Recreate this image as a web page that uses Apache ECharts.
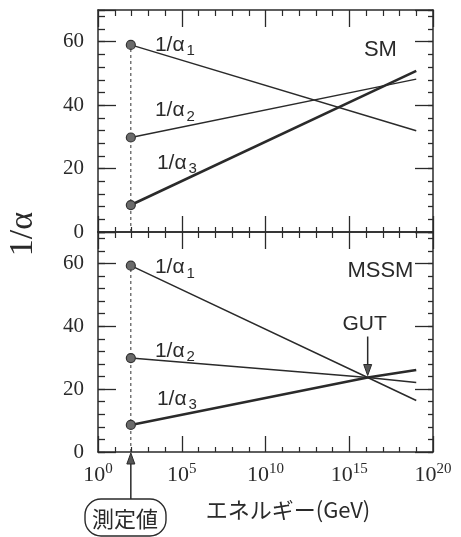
<!DOCTYPE html>
<html>
<head>
<meta charset="utf-8">
<script src="https://cdn.jsdelivr.net/npm/echarts@6/dist/echarts.min.js"></script>
<style>
  html, body { margin: 0; padding: 0; background: #fff; }
  #chart { width: 461px; height: 537px; }
</style>
</head>
<body>
<div id="chart"></div>
<script>
// Running inverse gauge couplings 1/alpha_i versus energy (log10 of GeV)
const xTickExponents = [0, 5, 10, 15, 20];
const yTickValues = [0, 20, 40, 60];
const couplingNames = ['1', '2', '3'];

// measured point (Z mass) and the upper end of the running
const mzLog = 1.96;

// Standard Model
const smLogE = [1.96, 19];
const smAlpha1 = [59.0, 31.9];
const smAlpha2 = [29.8, 48.2];
const smAlpha3 = [8.5, 50.8];

// Minimal supersymmetric standard model
const mssmLogE = [1.96, 16.1, 19];
const mssmAlpha1 = [59.3, 23.7, 16.4];
const mssmAlpha2 = [29.9, 23.7, 22.1];
const mssmAlpha3 = [8.6, 23.7, 26.1];

// unification point
const gutLog = 16.1;
const gutAlpha = 23.7;

const panelNames = ['SM', 'MSSM'];
const xTitle = 'エネルギー(GeV)';
const yTitle = '1/α';
const measuredLabel = '測定値';

const INK = '#2a2a2a';
const SERIF = '"Liberation Serif", "DejaVu Serif", serif';
const SANS = '"Liberation Sans", Arimo, Helvetica, Arial, sans-serif';
const CJK = '"Noto Sans CJK JP", "Noto Sans", sans-serif';

const chart = echarts.init(document.getElementById('chart'), null, { renderer: 'canvas' });

const grids = [
  { left: 98, right: 28, top: 10, height: 222 },
  { left: 98, right: 28, top: 232, height: 220 }
];

function xAxisFor(g, pos, showLabels) {
  return {
    gridIndex: g, type: 'value', position: pos,
    min: 0, max: 20, interval: 5,
    axisLine: { show: true, onZero: false, lineStyle: { color: INK, width: 1.5 } },
    axisTick: { show: true, inside: true, length: pos === 'top' ? 17 : 16, lineStyle: { color: INK, width: 1.3 } },
    minorTick: { show: true, splitNumber: 5, length: pos === 'top' ? 6 : 5, lineStyle: { color: INK, width: 1.2 } },
    splitLine: { show: false },
    axisLabel: showLabels ? {
      show: true, margin: 10,
      formatter: v => '{b|10}{s|' + v + '}',
      rich: {
        b: { fontFamily: SERIF, fontSize: 22, color: INK },
        s: { fontFamily: SERIF, fontSize: 15, color: INK, padding: [0, 0, 12, 0] }
      }
    } : { show: false }
  };
}

function yAxisFor(g, pos, major, showLabels) {
  return {
    gridIndex: g, type: 'value', position: pos,
    min: 0, max: 70, interval: major ? 20 : 4,
    axisLine: { show: major, onZero: false, lineStyle: { color: INK, width: 1.5 } },
    axisTick: { show: true, inside: true, length: major ? 18 : (pos === 'left' ? 7 : 5), lineStyle: { color: INK, width: 1.3 } },
    splitLine: { show: false },
    axisLabel: (major && showLabels) ? {
      show: true, margin: 14, fontFamily: SERIF, fontSize: 21, color: INK,
      formatter: v => (yTickValues.indexOf(v) >= 0 ? String(v) : '')
    } : { show: false }
  };
}

const xAxes = [
  xAxisFor(0, 'bottom', false), xAxisFor(0, 'top', false),
  xAxisFor(1, 'bottom', true), xAxisFor(1, 'top', false)
];
const yAxes = [
  yAxisFor(0, 'left', true, true), yAxisFor(0, 'left', false, false),
  yAxisFor(0, 'right', true, false), yAxisFor(0, 'right', false, false),
  yAxisFor(1, 'left', true, true), yAxisFor(1, 'left', false, false),
  yAxisFor(1, 'right', true, false), yAxisFor(1, 'right', false, false)
];

const labelRich = {
  m: { fontFamily: SANS, fontSize: 21, color: INK },
  sub: { fontFamily: SANS, fontSize: 15, color: INK, padding: [12, 0, 0, 2] }
};

// label offsets for the three coupling names in each panel
const labelOffsets = [
  [[14, 0], [14, -27], [16, -42]],
  [[14, 2], [14, -7], [16, -26]]
];

function couplingSeries(g, xs, ys, idx, width) {
  const data = xs.map((x, i) => {
    if (i === 0) {
      return {
        value: [x, ys[i]], symbol: 'circle', symbolSize: 9,
        label: {
          show: true, position: 'right', offset: labelOffsets[g][idx],
          formatter: '{m|1/α}{sub|' + couplingNames[idx] + '}', rich: labelRich
        }
      };
    }
    return { value: [x, ys[i]], symbol: 'none' };
  });
  return {
    type: 'line', xAxisIndex: g * 2, yAxisIndex: g * 4,
    data: data, showSymbol: true, symbol: 'none', z: 3,
    lineStyle: { color: INK, width: width },
    itemStyle: { color: '#6a6a6a', borderColor: '#333', borderWidth: 1.2 },
    emphasis: { disabled: true }, animation: false
  };
}

function dropLine(g, top) {
  return {
    type: 'line', xAxisIndex: g * 2, yAxisIndex: g * 4,
    data: [[mzLog, 0], [mzLog, top]], symbol: 'none', z: 2,
    lineStyle: { color: '#333', width: 1, type: [3, 3] },
    emphasis: { disabled: true }, animation: false
  };
}

const series = [
  dropLine(0, smAlpha1[0]),
  couplingSeries(0, smLogE, smAlpha1, 0, 1.5),
  couplingSeries(0, smLogE, smAlpha2, 1, 1.5),
  couplingSeries(0, smLogE, smAlpha3, 2, 2.6),
  dropLine(1, mssmAlpha1[0]),
  couplingSeries(1, mssmLogE, mssmAlpha1, 0, 1.5),
  couplingSeries(1, mssmLogE, mssmAlpha2, 1, 1.5),
  couplingSeries(1, mssmLogE, mssmAlpha3, 2, 2.6)
];

chart.setOption({
  backgroundColor: '#fff',
  animation: false,
  grid: grids,
  xAxis: xAxes,
  yAxis: yAxes,
  series: series
});

// annotations anchored to the axes
const gut = chart.convertToPixel({ gridIndex: 1 }, [gutLog, gutAlpha]);
const mzBase = chart.convertToPixel({ gridIndex: 1 }, [mzLog, 0]);
const smCorner = chart.convertToPixel({ gridIndex: 0 }, [16.5, 60]);
const mssmCorner = chart.convertToPixel({ gridIndex: 1 }, [16.5, 60]);

function arrow(x, y0, y1, id) {
  // vertical arrow from y0 to its tip at y1
  const dir = y1 > y0 ? 1 : -1;
  return {
    type: 'group', id: id, children: [
      { type: 'line', shape: { x1: x, y1: y0, x2: x, y2: y1 - dir * 8 },
        style: { stroke: INK, lineWidth: 1.5 } },
      { type: 'polygon', shape: { points: [[x - 4, y1 - dir * 11], [x + 4, y1 - dir * 11], [x, y1]] },
        style: { fill: '#555', stroke: INK, lineWidth: 1 } }
    ]
  };
}

chart.setOption({
  graphic: [
    { type: 'text', x: 23, y: 234, rotation: Math.PI / 2, originX: 0, originY: 0,
      style: { text: yTitle, font: '34px ' + SERIF, fill: INK, textAlign: 'center', textVerticalAlign: 'middle' } },
    { type: 'text', x: 288, y: 510,
      style: { text: xTitle, font: '22px ' + CJK, fill: INK, textAlign: 'center', textVerticalAlign: 'middle' } },
    { type: 'text', x: smCorner[0] + 6, y: 50,
      style: { text: panelNames[0], font: '22px ' + SANS, fill: INK, textAlign: 'center', textVerticalAlign: 'middle' } },
    { type: 'text', x: smCorner[0] + 6, y: mssmCorner[1] + 8,
      style: { text: panelNames[1], font: '22px ' + SANS, fill: INK, textAlign: 'center', textVerticalAlign: 'middle' } },
    { type: 'text', x: gut[0] - 3, y: gut[1] - 53,
      style: { text: 'GUT', font: '21px ' + SANS, fill: INK, textAlign: 'center', textVerticalAlign: 'middle' } },
    arrow(gut[0], gut[1] - 41, gut[1] - 2, 'gutArrow'),
    arrow(mzBase[0], 499, mzBase[1] + 1, 'mzArrow'),
    { type: 'rect', shape: { x: 85, y: 499, width: 81, height: 37, r: 16 },
      style: { fill: '#fff', stroke: INK, lineWidth: 1.4 } },
    { type: 'text', x: 125, y: 519,
      style: { text: measuredLabel, font: '22px ' + CJK, fill: INK, textAlign: 'center', textVerticalAlign: 'middle' } }
  ]
});
</script>
</body>
</html>
